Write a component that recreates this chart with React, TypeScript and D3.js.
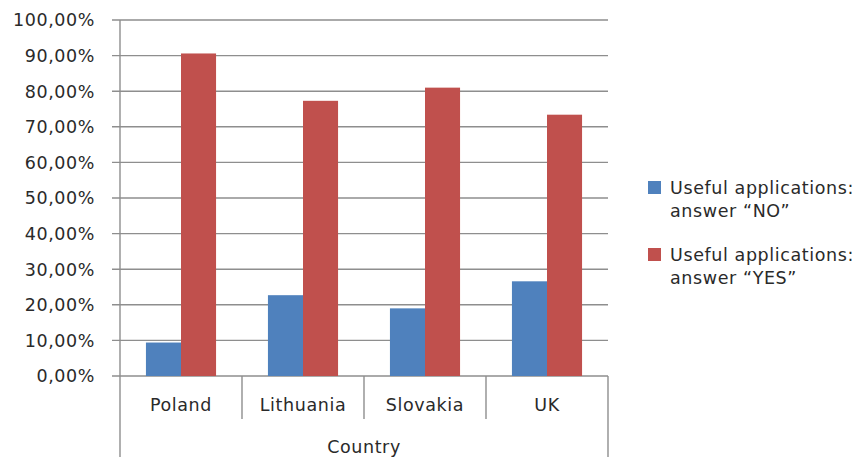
import React from "react";
import * as d3 from "d3";

const countries = ["Poland", "Lithuania", "Slovakia", "UK"];
const answerNo = [9.4, 22.7, 19.0, 26.6];
const answerYes = [90.6, 77.3, 81.0, 73.4];
const yTicks = [0, 10, 20, 30, 40, 50, 60, 70, 80, 90, 100];
const seriesNames = [
  ["Useful applications:", "answer \u201CNO\u201D"],
  ["Useful applications:", "answer \u201CYES\u201D"],
];
const axisTitle = "Country";

const W = 859;
const H = 457;
const left = 120;
const right = 608;
const top = 20;
const bottom = 376;
const colors = ["#4F81BD", "#C0504D"];
const gridColor = "#8E8E8E";
const textColor = "#2a2a2a";
const font = "'DejaVu Sans', sans-serif";

export default function App() {
  const y = d3.scaleLinear().domain([0, 100]).range([bottom, top]);
  const x0 = d3.scaleBand<string>().domain(countries).range([left, right]).paddingInner(0).paddingOuter(0);
  const x1 = d3
    .scaleBand<number>()
    .domain([0, 1])
    .range([0, x0.bandwidth()])
    .paddingOuter(0.74)
    .paddingInner(0);
  const series = [answerNo, answerYes];
  const fmt = (v: number) => v.toFixed(2).replace(".", ",") + "%";

  return (
    <svg
      width={W}
      height={H}
      style={{ position: "absolute", left: 0, top: 0, background: "#fff" }}
      fontFamily={font}
    >
      {yTicks.map((t) => (
        <g key={t}>
          <line x1={left - 8} x2={right} y1={y(t)} y2={y(t)} stroke={gridColor} strokeWidth={1.4} />
          <text
            x={95}
            y={y(t)}
            dy="0.36em"
            textAnchor="end"
            fontSize={17.5}
            letterSpacing={0.6}
            fill={textColor}
          >
            {fmt(t)}
          </text>
        </g>
      ))}
      {countries.map((c, i) => (
        <g key={c} transform={`translate(${x0(c)},0)`}>
          {series.map((s, k) => (
            <rect
              key={k}
              x={x1(k)}
              y={y(s[i])}
              width={x1.bandwidth()}
              height={bottom - y(s[i])}
              fill={colors[k]}
            />
          ))}
        </g>
      ))}
      <line x1={left} x2={left} y1={top} y2={H} stroke={gridColor} strokeWidth={1.4} />
      {countries.map((c, i) => {
        const xr = (x0(c) as number) + x0.bandwidth();
        const isLast = i === countries.length - 1;
        return (
          <line
            key={c}
            x1={xr}
            x2={xr}
            y1={bottom}
            y2={isLast ? H : 419}
            stroke={gridColor}
            strokeWidth={1.4}
          />
        );
      })}
      {countries.map((c) => (
        <text
          key={c}
          x={(x0(c) as number) + x0.bandwidth() / 2}
          y={405}
          dy="0.36em"
          textAnchor="middle"
          fontSize={17.5}
          letterSpacing={0.6}
          fill={textColor}
        >
          {c}
        </text>
      ))}
      <text
        x={(left + right) / 2}
        y={447}
        dy="0.36em"
        textAnchor="middle"
        fontSize={17.5}
        letterSpacing={0.6}
        fill={textColor}
      >
        {axisTitle}
      </text>
      {seriesNames.map((lines, k) => (
        <g key={k} transform={`translate(648, ${181 + k * 67})`}>
          <rect x={0} y={0} width={13} height={13} fill={colors[k]} />
          {lines.map((ln, j) => (
            <text
              key={j}
              x={22}
              y={12.5 + j * 23.5}
              fontSize={17.5}
              letterSpacing={0.6}
              fill={textColor}
            >
              {ln}
            </text>
          ))}
        </g>
      ))}
    </svg>
  );
}
